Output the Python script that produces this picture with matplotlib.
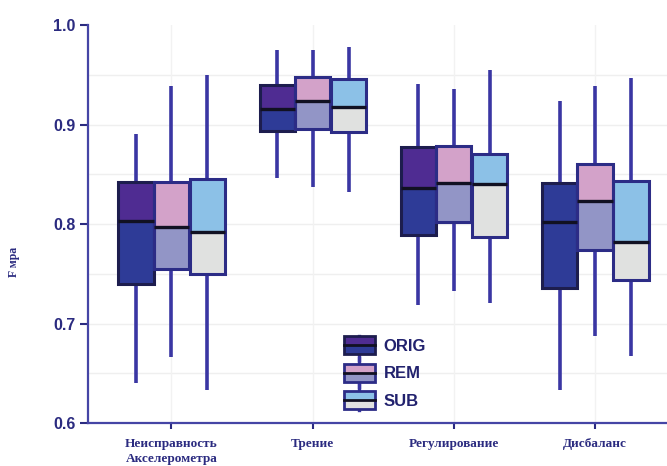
import numpy as np
import matplotlib
matplotlib.use("Agg")
import matplotlib.pyplot as plt
from matplotlib.patches import Rectangle
from matplotlib.lines import Line2D
from matplotlib.legend_handler import HandlerBase
from matplotlib.transforms import ScaledTranslation

# data
groups = ["Неисправность\nАкселерометра", "Трение", "Регулирование", "Дисбаланс"]
series = ["ORIG", "REM", "SUB"]

# per series: one value per group
wlo = {"ORIG": [0.640, 0.846, 0.719, 0.633],
       "REM":  [0.666, 0.837, 0.733, 0.688],
       "SUB":  [0.633, 0.832, 0.721, 0.667]}
q1 = {"ORIG": [0.740, 0.894, 0.789, 0.736],
      "REM":  [0.755, 0.896, 0.802, 0.774],
      "SUB":  [0.750, 0.893, 0.787, 0.744]}
med = {"ORIG": [0.803, 0.916, 0.836, 0.802],
       "REM":  [0.797, 0.924, 0.841, 0.823],
       "SUB":  [0.792, 0.918, 0.840, 0.782]}
q3 = {"ORIG": [0.842, 0.940, 0.878, 0.841],
      "REM":  [0.842, 0.948, 0.879, 0.860],
      "SUB":  [0.845, 0.946, 0.871, 0.843]}
whi = {"ORIG": [0.891, 0.975, 0.941, 0.924],
       "REM":  [0.939, 0.975, 0.936, 0.939],
       "SUB":  [0.950, 0.978, 0.955, 0.947]}

upper_col = {"ORIG": "#4f2c92", "REM": "#d3a2c9", "SUB": "#8cc1e7"}
lower_col = {"ORIG": "#2e3b97", "REM": "#9295c6", "SUB": "#e0e1e0"}
edge_col = {"ORIG": "#1d1d4e", "REM": "#2c2c86", "SUB": "#2c2c86"}
navy = "#2b2b80"
whisk = "#3a36a3"

fig = plt.figure(figsize=(6.67, 4.66), dpi=100)
ax = fig.add_axes([0.132, 0.092, 0.868, 0.854])

x = np.arange(1, len(groups) + 1)
w = 0.25
offs = {"ORIG": -0.25, "REM": 0.0, "SUB": 0.255}

for s in series:
    xs = x + offs[s]
    ax.vlines(xs, wlo[s], q1[s], color=whisk, lw=2.6, zorder=2)
    ax.vlines(xs, q3[s], whi[s], color=whisk, lw=2.6, zorder=2)
    lo_h = np.array(med[s]) - np.array(q1[s])
    up_h = np.array(q3[s]) - np.array(med[s])
    ups = [upper_col[s]] * len(groups)
    if s == "ORIG":
        ups[3] = lower_col[s]  # last ORIG box is one colour in the picture
    ax.bar(xs, lo_h, bottom=q1[s], width=w, color=lower_col[s], lw=0, zorder=3)
    ax.bar(xs, up_h, bottom=med[s], width=w, color=ups, lw=0, zorder=3)
    ax.bar(xs, np.array(q3[s]) - np.array(q1[s]), bottom=q1[s], width=w,
           facecolor="none", edgecolor=edge_col[s], lw=2.2, zorder=4)
    ax.hlines(med[s], xs - w / 2, xs + w / 2, color="#111122", lw=2.4, zorder=5)

ax.set_xlim(0.41, 4.51)
ax.set_ylim(0.6, 1.0)
ax.set_yticks([0.6, 0.7, 0.8, 0.9, 1.0])
ax.set_yticklabels(["0.6", "0.7", "0.8", "0.9", "1.0"])
ax.set_xticks(x)
ax.set_xticklabels(groups, family="Liberation Serif", fontweight="bold",
                   fontsize=9.5, color=navy, linespacing=1.3)
# nudge labels a bit like in the picture
for lab, dx in zip(ax.get_xticklabels(), [-22, -5, -4, 14]):
    lab.set_transform(lab.get_transform() + ScaledTranslation(dx / 100, 0, fig.dpi_scale_trans))

for lab in ax.get_yticklabels():
    lab.set_family("Liberation Sans")
    lab.set_fontweight("bold")
    lab.set_fontsize(11.5)
    lab.set_color(navy)

ax.tick_params(axis="y", length=6, width=1.5, color=navy, pad=3)
ax.tick_params(axis="x", length=4, width=1.5, color=navy, pad=7)

for sp in ["top", "right"]:
    ax.spines[sp].set_visible(False)
for sp in ["left", "bottom"]:
    ax.spines[sp].set_color("#4545a5")
    ax.spines[sp].set_linewidth(1.6)

# faint grid
for yy in np.arange(0.65, 0.99, 0.05):
    ax.axhline(yy, color="#efefef", lw=1.0, zorder=0)
for xx in x:
    ax.axvline(xx, color="#f2f2f2", lw=1.0, zorder=0)

ax.set_ylabel("F мра", family="Liberation Serif", fontweight="bold",
              fontsize=8.5, color=navy)
ax.yaxis.set_label_coords(-0.117, 0.405)


class BoxKey:
    def __init__(self, s):
        self.s = s


class BoxHandler(HandlerBase):
    def create_artists(self, legend, orig_handle, xdescent, ydescent,
                       width, height, fontsize, trans):
        s = orig_handle.s
        x0, y0 = -xdescent, -ydescent
        cx = x0 + width / 2
        top = y0 + height + (4 if s != "ORIG" else 0)
        bot = y0 - (4 if s != "SUB" else 1)
        arts = [
            Line2D([cx, cx], [bot, top], color=whisk, lw=2.4, transform=trans),
            Rectangle((x0, y0), width, height / 2, facecolor=lower_col[s], lw=0, transform=trans),
            Rectangle((x0, y0 + height / 2), width, height / 2, facecolor=upper_col[s], lw=0, transform=trans),
            Rectangle((x0, y0), width, height, facecolor="none", edgecolor=edge_col[s], lw=2.0, transform=trans),
            Line2D([x0, x0 + width], [y0 + height / 2] * 2, color="#111122", lw=2.0, transform=trans),
        ]
        return arts


keys = [BoxKey(s) for s in series]
leg = ax.legend(keys, series, handler_map={BoxKey: BoxHandler()},
                loc="upper left", bbox_to_anchor=(0.43, 0.235), frameon=False,
                handlelength=1.9, handleheight=1.3, labelspacing=0.55,
                handletextpad=0.5, borderaxespad=0,
                prop={"family": "Liberation Sans", "weight": "bold", "size": 12})
for t in leg.get_texts():
    t.set_color("#22226e")

fig.savefig("out.png", dpi=100)
